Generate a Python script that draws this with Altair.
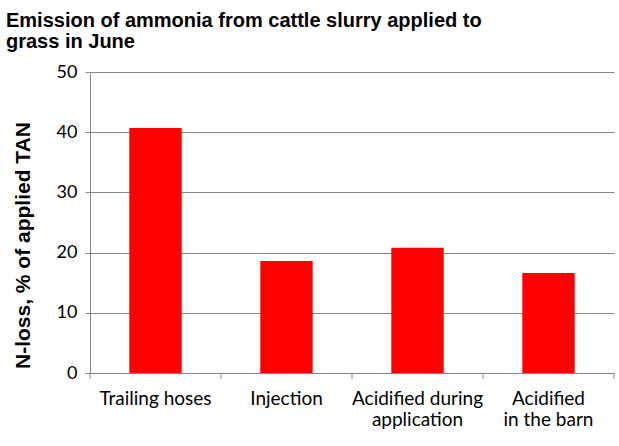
import altair as alt
import pandas as pd

categories = ["Trailing hoses", "Injection", "Acidified during\napplication", "Acidified\nin the barn"]
values = [40.7, 18.6, 20.8, 16.6]
y_ticks = [0, 10, 20, 30, 40, 50]

df = pd.DataFrame({"cat": categories, "val": values})
df_last = df.tail(1)

GRAY = "#868686"
W, H = 524, 301

xscale = alt.Scale(domain=categories, paddingInner=0, paddingOuter=0)

bars = alt.Chart(df).mark_bar(color="#FF0000", width=alt.RelativeBandSize(0.4)).encode(
    x=alt.X("cat:N", sort=categories, scale=xscale,
            axis=alt.Axis(title=None, labelAngle=0, ticks=False, grid=False,
                          domainColor=GRAY, domainWidth=1,
                          labelExpr="split(datum.label, '\\n')",
                          labelFont="Lato", labelFontSize=19, labelColor="black",
                          labelPadding=16, labelLineHeight=21, labelBaseline="top")),
    y=alt.Y("val:Q", scale=alt.Scale(domain=[0, 50], nice=False),
            axis=alt.Axis(values=y_ticks, title="N-loss, % of applied TAN",
                          grid=True, gridColor=GRAY, gridWidth=1,
                          domainColor=GRAY, tickColor=GRAY, tickSize=5,
                          labelFont="Lato", labelFontSize=18, labelColor="black",
                          labelPadding=8,
                          titleFont="Liberation Sans", titleFontSize=21, titleFontWeight="bold",
                          titleColor="black", titleAngle=-90, titleX=-61, titleY=173,
                          titleAlign="center", titleBaseline="alphabetic")),
)

ticks = alt.Chart(df).mark_rule(color=GRAY).encode(
    x=alt.X("cat:N", sort=categories, scale=xscale, bandPosition=0),
    y=alt.value(H + 1), y2=alt.value(H + 6),
)
ticks_end = alt.Chart(df_last).mark_rule(color=GRAY).encode(
    x=alt.X("cat:N", sort=categories, scale=xscale, bandPosition=1),
    y=alt.value(H + 1), y2=alt.value(H + 6),
)

chart = alt.layer(bars, ticks, ticks_end).properties(
    width=W, height=H,
    title=alt.TitleParams(
        text=["Emission of ammonia from cattle slurry applied to", "grass in June"],
        font="Liberation Sans", fontSize=20, fontWeight="bold", color="black",
        anchor="start", frame="bounds", dx=-6, lineHeight=21, offset=11,
    ),
    autosize=alt.AutoSizeParams(type="none"),
    padding={"left": 90, "top": 72, "right": 5, "bottom": 73},
    background="white",
).configure_view(stroke=None)

chart.save("out.html", embed_options={"renderer": "svg", "actions": False})
